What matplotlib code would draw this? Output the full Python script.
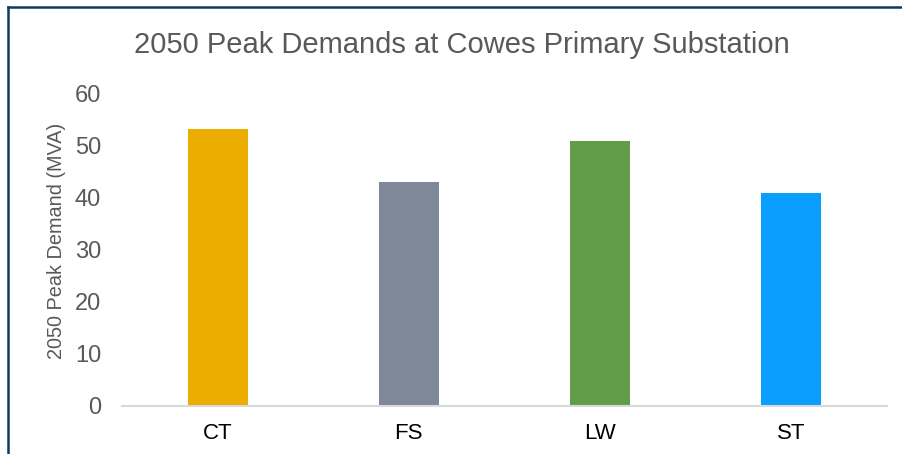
import matplotlib.pyplot as plt
from matplotlib.lines import Line2D

plt.rcParams['font.family'] = ['Liberation Sans', 'DejaVu Sans']

substations = ["CT", "FS", "LW", "ST"]
peak_demand_mva = [53.3, 43.1, 51.0, 41.0]
bar_colors = ["#EAAD00", "#7F8898", "#629C49", "#0A9EFF"]
y_ticks = [0, 10, 20, 30, 40, 50, 60]

fig = plt.figure(figsize=(9.02, 4.54), dpi=100)
ax = fig.add_axes([122 / 902, 48 / 454, 765 / 902, 312 / 454])

ax.bar(range(len(substations)), peak_demand_mva, width=0.314, color=bar_colors)

ax.set_xlim(-0.5, len(substations) - 0.5)
ax.set_ylim(0, 60)
ax.set_yticks(y_ticks)
ax.set_xticks(range(len(substations)))
ax.set_xticklabels(substations)

for side in ["top", "right", "left"]:
    ax.spines[side].set_visible(False)
ax.spines["bottom"].set_color("#d9d9d9")
ax.spines["bottom"].set_linewidth(1.5)

ax.tick_params(axis="y", length=0, pad=15, labelsize=17, labelcolor="#595959")
ax.tick_params(axis="x", length=0, pad=12, labelsize=16, labelcolor="#000000")

ax.set_ylabel("2050 Peak Demand (MVA)", fontsize=14.3, color="#595959")
ax.yaxis.set_label_coords(-0.073, 0.53)

fig.text(462 / 902, 1 - 45 / 454, "2050 Peak Demands at Cowes Primary Substation",
         ha="center", va="center", fontsize=21, color="#595959")

# dark frame along the top and left edge
fig.add_artist(Line2D([8 / 902, 1], [1 - 7 / 454, 1 - 7 / 454],
                      transform=fig.transFigure, color="#0b3c61", linewidth=1.8))
fig.add_artist(Line2D([8 / 902, 8 / 902], [0, 1 - 7 / 454],
                      transform=fig.transFigure, color="#0b3c61", linewidth=1.8))

fig.savefig("out.png", dpi=100)
